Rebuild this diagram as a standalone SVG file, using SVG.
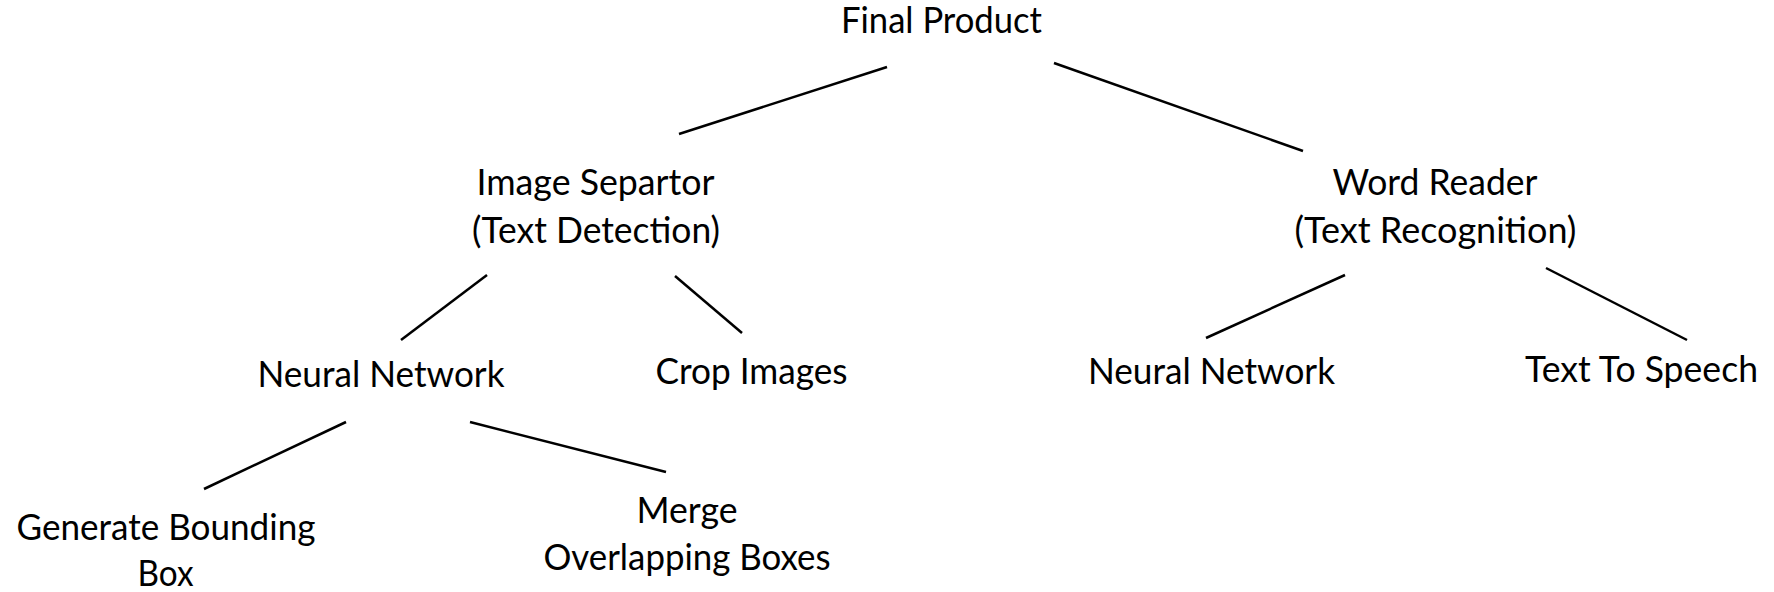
<svg xmlns="http://www.w3.org/2000/svg" width="1774" height="592" viewBox="0 0 1774 592">
<style>
  text { font-family: Lato, "Open Sans", "Liberation Sans", sans-serif; font-size: 36px; fill: #000; text-anchor: middle; }
  .edge { stroke: #000; stroke-width: 2.5; stroke-linecap: butt; fill: none; }
</style>
<rect width="1774" height="592" fill="#fff"/>
<g id="connectors">
  <line class="edge" x1="887" y1="67" x2="679" y2="134"/>
  <line class="edge" x1="1054" y1="63" x2="1303" y2="151"/>
  <line class="edge" x1="487" y1="275" x2="401" y2="340"/>
  <line class="edge" x1="675" y1="276" x2="742" y2="333"/>
  <line class="edge" x1="1345" y1="275" x2="1206" y2="338"/>
  <line class="edge" x1="1546" y1="268" x2="1687" y2="340"/>
  <line class="edge" x1="346" y1="422" x2="204" y2="489"/>
  <line class="edge" x1="470" y1="422" x2="666" y2="472"/>
</g>
<g id="final-product">
  <text x="941.5" y="33" textLength="201" lengthAdjust="spacingAndGlyphs">Final Product</text>
</g>
<g id="image-separator">
  <text x="595.5" y="195" textLength="238" lengthAdjust="spacingAndGlyphs">Image Separtor</text>
  <text x="596" y="243" textLength="248" lengthAdjust="spacingAndGlyphs">(Text Detection)</text>
</g>
<g id="word-reader">
  <text x="1435" y="195" textLength="205" lengthAdjust="spacingAndGlyphs">Word Reader</text>
  <text x="1435.5" y="243" textLength="282" lengthAdjust="spacingAndGlyphs">(Text Recognition)</text>
</g>
<g id="neural-network-left">
  <text x="381" y="387" textLength="247" lengthAdjust="spacingAndGlyphs">Neural Network</text>
</g>
<g id="crop-images">
  <text x="751.5" y="384" textLength="192" lengthAdjust="spacingAndGlyphs">Crop Images</text>
</g>
<g id="neural-network-right">
  <text x="1211.5" y="384" textLength="247" lengthAdjust="spacingAndGlyphs">Neural Network</text>
</g>
<g id="text-to-speech">
  <text x="1641.5" y="382" textLength="233" lengthAdjust="spacingAndGlyphs">Text To Speech</text>
</g>
<g id="generate-bounding-box">
  <text x="166" y="540" textLength="299" lengthAdjust="spacingAndGlyphs">Generate Bounding</text>
  <text x="165.5" y="586" textLength="56" lengthAdjust="spacingAndGlyphs">Box</text>
</g>
<g id="merge-overlapping-boxes">
  <text x="687" y="523" textLength="101" lengthAdjust="spacingAndGlyphs">Merge</text>
  <text x="687" y="570" textLength="287" lengthAdjust="spacingAndGlyphs">Overlapping Boxes</text>
</g>
</svg>
